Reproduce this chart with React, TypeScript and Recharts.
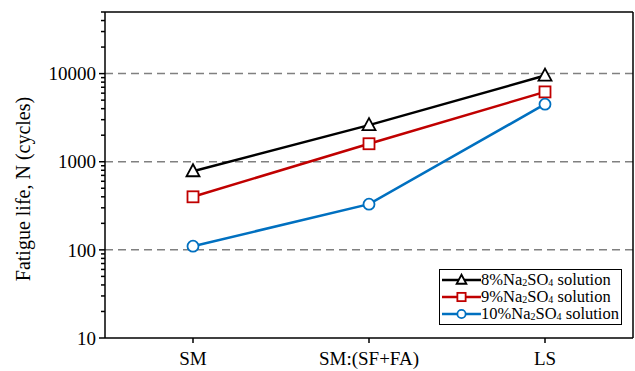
import {
  Legend,
  Line,
  LineChart,
  ReferenceLine,
  XAxis,
  YAxis,
} from 'recharts';

const categories = ['SM', 'SM:(SF+FA)', 'LS'];
const na8 = [780, 2600, 9500];
const na9 = [400, 1600, 6200];
const na10 = [110, 330, 4500];

const majorTicks = [10, 100, 1000, 10000];
const yTicks = [
  10, 20, 30, 40, 50, 60, 70, 80, 90,
  100, 200, 300, 400, 500, 600, 700, 800, 900,
  1000, 2000, 3000, 4000, 5000, 6000, 7000, 8000, 9000,
  10000, 20000, 30000, 40000, 50000,
];
const gridValues = [100, 1000, 10000];

const series = [
  { key: 'na8', pct: '8%', color: '#000000', shape: 'triangle' },
  { key: 'na9', pct: '9%', color: '#C00000', shape: 'square' },
  { key: 'na10', pct: '10%', color: '#0070C0', shape: 'circle' },
];

const chartData = categories.map((name, i) => ({
  name,
  na8: na8[i],
  na9: na9[i],
  na10: na10[i],
}));

const FONT = '"Liberation Serif", "DejaVu Serif", serif';

function Marker({
  cx,
  cy,
  shape,
  color,
  k = 1,
}: {
  cx: number;
  cy: number;
  shape: string;
  color: string;
  k?: number;
}) {
  if (shape === 'triangle') {
    return (
      <polygon
        points={`${cx},${cy - 7 * k} ${cx - 6.5 * k},${cy + 5 * k} ${cx + 6.5 * k},${cy + 5 * k}`}
        fill="#fff"
        stroke={color}
        strokeWidth={1.8}
      />
    );
  }
  if (shape === 'square') {
    return (
      <rect
        x={cx - 5.5 * k}
        y={cy - 5.5 * k}
        width={11 * k}
        height={11 * k}
        fill="#fff"
        stroke={color}
        strokeWidth={1.8}
      />
    );
  }
  return <circle cx={cx} cy={cy} r={5.5 * k} fill="#fff" stroke={color} strokeWidth={1.8} />;
}

// log axis: labelled decades, short unlabelled minor ticks
function YTick(props: any) {
  const { x, y, payload } = props;
  const major = majorTicks.includes(payload.value);
  const len = major ? 6 : 4;
  return (
    <g>
      <path d={`M${x},${y}H${x - len}`} stroke="#000" strokeWidth={1.5} fill="none" />
      {major && (
        <text
          x={x - 9}
          y={y}
          dy="0.35em"
          textAnchor="end"
          style={{ fontFamily: FONT, fontSize: 19 }}
          fill="#000"
        >
          {payload.value}
        </text>
      )}
    </g>
  );
}

function YLabel(props: any) {
  const { viewBox } = props;
  const cx = viewBox.x + 23;
  const cy = viewBox.y + viewBox.height / 2 + 14;
  return (
    <text
      x={cx}
      y={cy}
      transform={`rotate(-90 ${cx} ${cy})`}
      textAnchor="middle"
      dominantBaseline="central"
      style={{ fontFamily: FONT, fontSize: 20 }}
      fill="#000"
    >
      Fatigue life, N (cycles)
    </text>
  );
}

const subStyle = { fontSize: 10, verticalAlign: '-1px', lineHeight: 0 };

function LegendBox() {
  return (
    <div
      style={{
        border: '1.5px solid #000',
        background: '#fff',
        padding: '1px 0 2px 2px',
        fontFamily: FONT,
        fontSize: 16.5,
        lineHeight: '17px',
        color: '#000',
        width: 183,
        boxSizing: 'border-box',
      }}
    >
      {series.map((s) => (
        <div key={s.key} style={{ display: 'flex', alignItems: 'center', height: 17 }}>
          <svg width={39} height={16} style={{ flex: 'none' }}>
            <line x1={0} x2={39} y1={8} y2={8} stroke={s.color} strokeWidth={2.5} />
            <Marker cx={19.5} cy={8} shape={s.shape} color={s.color} k={0.75} />
          </svg>
          <span style={{ whiteSpace: 'nowrap' }}>
            {s.pct}Na<sub style={subStyle}>2</sub>SO<sub style={subStyle}>4</sub> solution
          </span>
        </div>
      ))}
    </div>
  );
}

export default function App() {
  return (
    <div style={{ position: 'absolute', left: 0, top: 0 }}>
      <LineChart
        width={635}
        height={371}
        data={chartData}
        margin={{ top: 11, right: 1, bottom: 0, left: 0 }}
      >
        {gridValues.map((v) => (
          <ReferenceLine
            key={v}
            y={v}
            stroke="#808080"
            strokeWidth={1.5}
            strokeDasharray="8 5"
          />
        ))}

        <XAxis
          dataKey="name"
          scale="band"
          height={33}
          tickSize={5}
          tickMargin={9}
          interval={0}
          stroke="#000"
          strokeWidth={1.5}
          tick={{ fill: '#000', fontFamily: FONT, fontSize: 19 }}
        />
        {/* top and right axes only close the frame */}
        <XAxis
          xAxisId="top"
          dataKey="name"
          scale="band"
          orientation="top"
          height={1}
          tick={false}
          tickLine={false}
          axisLine={{ stroke: '#000', strokeWidth: 1.5 }}
        />

        <YAxis
          type="number"
          scale="log"
          domain={[10, 50000]}
          ticks={yTicks}
          interval={0}
          allowDataOverflow
          width={105}
          tickSize={0}
          tickMargin={0}
          tickLine={false}
          axisLine={{ stroke: '#000', strokeWidth: 1.5 }}
          tick={<YTick />}
          label={<YLabel />}
        />
        <YAxis
          yAxisId="right"
          orientation="right"
          type="number"
          scale="log"
          domain={[10, 50000]}
          width={1}
          tick={false}
          tickLine={false}
          axisLine={{ stroke: '#000', strokeWidth: 1.5 }}
        />

        <Legend
          layout="vertical"
          align="center"
          verticalAlign="middle"
          wrapperStyle={{ position: 'absolute', left: 439, top: 269, width: 183 }}
          content={<LegendBox />}
        />

        {series.map((s) => (
          <Line
            key={s.key}
            dataKey={s.key}
            type="linear"
            stroke={s.color}
            strokeWidth={2.5}
            isAnimationActive={false}
            dot={(p: any) => (
              <Marker key={`${s.key}-${p.index}`} cx={p.cx} cy={p.cy} shape={s.shape} color={s.color} />
            )}
            activeDot={false}
          />
        ))}
      </LineChart>
    </div>
  );
}
